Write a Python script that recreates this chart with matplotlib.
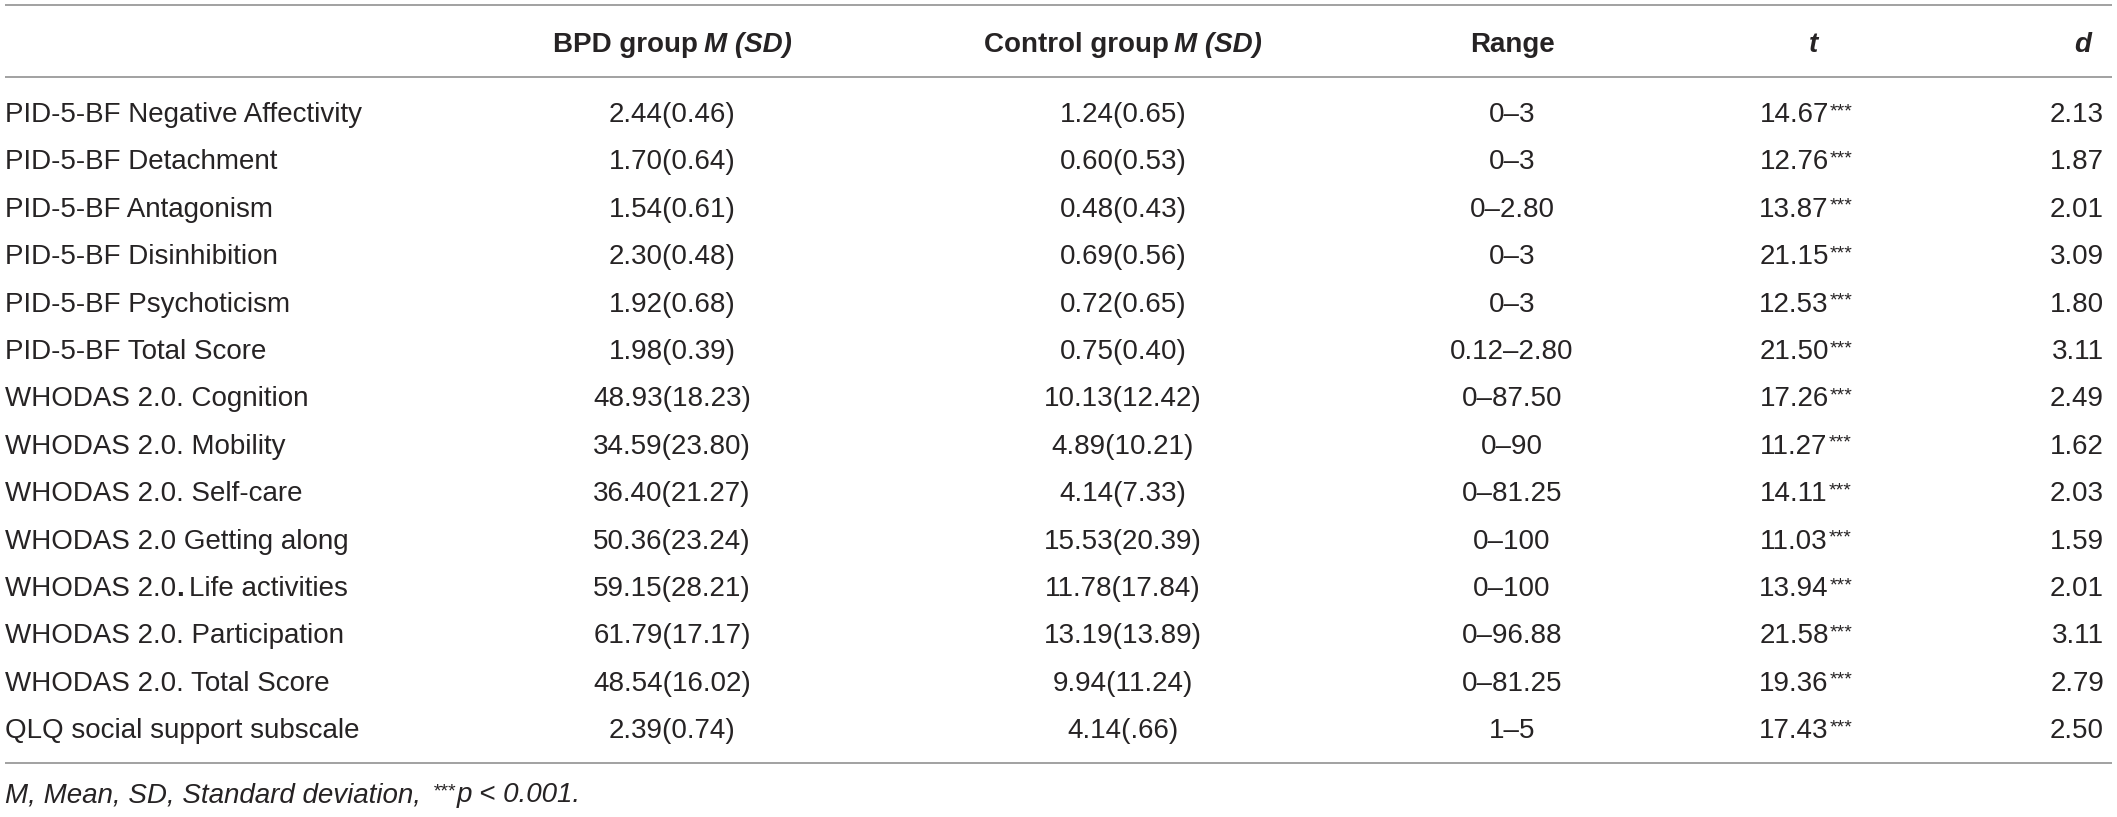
import matplotlib
matplotlib.use('Agg')
import matplotlib.pyplot as plt

plt.rcParams['font.family'] = ['Liberation Sans', 'DejaVu Sans']

# table content
labels = ['PID-5-BF Negative Affectivity', 'PID-5-BF Detachment', 'PID-5-BF Antagonism',
          'PID-5-BF Disinhibition', 'PID-5-BF Psychoticism', 'PID-5-BF Total Score',
          'WHODAS 2.0. Cognition', 'WHODAS 2.0. Mobility', 'WHODAS 2.0. Self-care',
          'WHODAS 2.0 Getting along', 'WHODAS 2.0. Life activities',
          'WHODAS 2.0. Participation', 'WHODAS 2.0. Total Score',
          'QLQ social support subscale']
bpd = ['2.44(0.46)', '1.70(0.64)', '1.54(0.61)', '2.30(0.48)', '1.92(0.68)', '1.98(0.39)',
       '48.93(18.23)', '34.59(23.80)', '36.40(21.27)', '50.36(23.24)', '59.15(28.21)',
       '61.79(17.17)', '48.54(16.02)', '2.39(0.74)']
control = ['1.24(0.65)', '0.60(0.53)', '0.48(0.43)', '0.69(0.56)', '0.72(0.65)', '0.75(0.40)',
           '10.13(12.42)', '4.89(10.21)', '4.14(7.33)', '15.53(20.39)', '11.78(17.84)',
           '13.19(13.89)', '9.94(11.24)', '4.14(.66)']
ranges = ['0–3', '0–3', '0–2.80', '0–3', '0–3', '0.12–2.80', '0–87.50', '0–90', '0–81.25',
          '0–100', '0–100', '0–96.88', '0–81.25', '1–5']
t_vals = ['14.67', '12.76', '13.87', '21.15', '12.53', '21.50', '17.26', '11.27', '14.11',
          '11.03', '13.94', '21.58', '19.36', '17.43']
d_vals = ['2.13', '1.87', '2.01', '3.09', '1.80', '3.11', '2.49', '1.62', '2.03', '1.59',
          '2.01', '3.11', '2.79', '2.50']

W, H = 2117, 817
TXT = '#262324'
LINE = '#9a9a9a'
FS = 20
STAR = 14

fig = plt.figure(figsize=(W / 100, H / 100), dpi=100)
ax = fig.add_axes([0, 0, 1, 1])
ax.set_xlim(0, W)
ax.set_ylim(H, 0)
ax.axis('off')
renderer = fig.canvas.get_renderer()


def put(x, y, pieces, ha='left'):
    # pieces: (text, size, weight, style, dy, gap_after); y is the baseline
    cur = x
    arts = []
    for s, size, weight, style, dy, gap in pieces:
        t = ax.text(cur, y + dy, s, fontsize=size, fontweight=weight, fontstyle=style,
                    color=TXT, ha='left', va='baseline')
        w = t.get_window_extent(renderer).width
        arts.append(t)
        cur += w + gap
    total = cur - x
    shift = {'left': 0, 'center': -total / 2, 'right': -total}[ha]
    for t in arts:
        px, py = t.get_position()
        t.set_position((px + shift, py))


col_bpd, col_ctl, col_rng, col_t, col_d = 672, 1123, 1512, 1806, 2104

# rules
for yy in (5, 77, 763):
    ax.plot([5, 2112], [yy, yy], color=LINE, lw=1.3, solid_capstyle='butt')

# header
hy = 52
put(col_bpd, hy, [('BPD group', FS, 'bold', 'normal', 0, 6),
                  ('M (SD)', FS, 'bold', 'italic', 0, 0)], 'center')
put(col_ctl, hy, [('Control group', FS, 'bold', 'normal', 0, 6),
                  ('M (SD)', FS, 'bold', 'italic', 0, 0)], 'center')
put(col_rng, hy, [('Range', FS, 'bold', 'normal', 0, 0)], 'center')
put(1813, hy, [('t', FS, 'bold', 'italic', 0, 0)], 'center')
put(2091, hy, [('d', FS, 'bold', 'italic', 0, 0)], 'right')

# body
y0, dy = 122, 47.4
for i, lab in enumerate(labels):
    y = y0 + i * dy
    if lab.startswith('WHODAS 2.0. Life'):
        put(5, y, [('WHODAS 2.0', FS, 'normal', 'normal', 0, 0),
                   ('.', FS, 'bold', 'normal', 0, 5),
                   ('Life activities', FS, 'normal', 'normal', 0, 0)])
    else:
        put(5, y, [(lab, FS, 'normal', 'normal', 0, 0)])
    put(col_bpd, y, [(bpd[i], FS, 'normal', 'normal', 0, 0)], 'center')
    put(col_ctl, y, [(control[i], FS, 'normal', 'normal', 0, 0)], 'center')
    put(col_rng, y, [(ranges[i], FS, 'normal', 'normal', 0, 0)], 'center')
    put(col_t, y, [(t_vals[i], FS, 'normal', 'normal', 0, 1),
                   ('***', STAR, 'normal', 'normal', -6, 0)], 'center')
    put(col_d, y, [(d_vals[i], FS, 'normal', 'normal', 0, 0)], 'right')

# footnote
put(5, 802, [('M, Mean, SD, Standard deviation,', FS, 'normal', 'italic', 0, 12),
             ('***', STAR, 'normal', 'italic', -6, 1),
             ('p < 0.001.', FS, 'normal', 'italic', 0, 0)])

fig.savefig('out.png', dpi=100)
